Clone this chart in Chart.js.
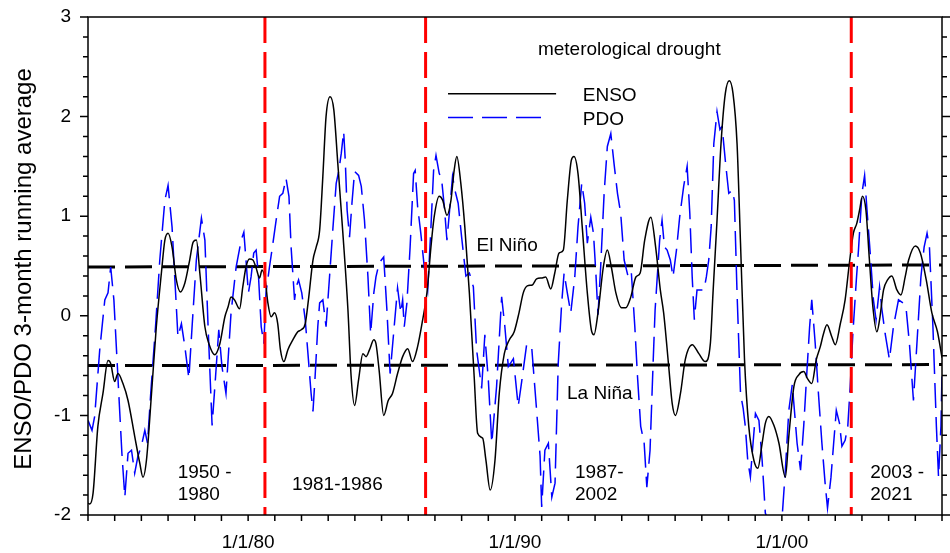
<!DOCTYPE html>
<html>
<head>
<meta charset="utf-8">
<script src="https://cdn.jsdelivr.net/npm/chart.js@4"></script>
<style>
  html, body { margin: 0; padding: 0; background: #fff; }
  #wrap { width: 950px; height: 553px; }
</style>
</head>
<body>
<div id="wrap"><canvas id="ensoChart" width="950" height="553"></canvas></div>
<script>
// ENSO 3-month running average (black solid)
const ensoYears = [
  1974.00, 1974.06, 1974.19, 1974.37, 1974.56, 1974.75, 1974.85, 1975.00, 1975.12, 1975.31,
  1975.50, 1975.75, 1975.94, 1976.06, 1976.19, 1976.38, 1976.56, 1976.75, 1976.88, 1977.00,
  1977.15, 1977.31, 1977.46, 1977.63, 1977.81, 1977.94, 1978.06, 1978.19, 1978.38, 1978.53,
  1978.75, 1978.94, 1979.13, 1979.25, 1979.36, 1979.49, 1979.68, 1979.80, 1979.92, 1980.05,
  1980.18, 1980.30, 1980.43, 1980.52, 1980.64, 1980.74, 1980.86, 1980.99, 1981.11, 1981.21,
  1981.34, 1981.49, 1981.68, 1981.86, 1981.99, 1982.14, 1982.26, 1982.43, 1982.55, 1982.68,
  1982.80, 1982.92, 1983.07, 1983.21, 1983.36, 1983.55, 1983.74, 1983.86, 1983.99, 1984.14,
  1984.30, 1984.42, 1984.55, 1984.71, 1984.79, 1984.91, 1985.08, 1985.25, 1985.41, 1985.60,
  1985.79, 1985.98, 1986.16, 1986.35, 1986.54, 1986.70, 1986.85, 1986.97, 1987.16, 1987.29,
  1987.45, 1987.60, 1987.72, 1987.82, 1987.97, 1988.12, 1988.29, 1988.47, 1988.60, 1988.79,
  1988.91, 1989.07, 1989.25, 1989.41, 1989.60, 1989.79, 1989.97, 1990.15, 1990.31, 1990.46,
  1990.65, 1990.81, 1991.02, 1991.15, 1991.34, 1991.49, 1991.65, 1991.81, 1991.96, 1992.11,
  1992.21, 1992.36, 1992.52, 1992.71, 1992.86, 1992.96, 1993.11, 1993.31, 1993.46, 1993.61,
  1993.78, 1993.99, 1994.15, 1994.34, 1994.53, 1994.69, 1994.86, 1995.09, 1995.27, 1995.45,
  1995.57, 1995.76, 1995.89, 1996.01, 1996.20, 1996.38, 1996.64, 1996.89, 1997.13, 1997.32,
  1997.42, 1997.57, 1997.72, 1997.88, 1998.03, 1998.17, 1998.32, 1998.45, 1998.60, 1998.76,
  1998.95, 1999.10, 1999.26, 1999.38, 1999.51, 1999.70, 1999.89, 2000.13, 2000.26, 2000.45,
  2000.64, 2000.82, 2000.96, 2001.12, 2001.29, 2001.44, 2001.56, 2001.69, 2001.87, 2002.00,
  2002.19, 2002.37, 2002.53, 2002.68, 2002.81, 2002.91, 2003.02, 2003.15, 2003.28, 2003.41,
  2003.56, 2003.66, 2003.81, 2003.96, 2004.12, 2004.31, 2004.46, 2004.62, 2004.75, 2005.00,
  2005.19, 2005.41, 2005.62, 2005.83, 2006.00
];
const ensoValues = [
  -1.88, -1.89, -1.78, -1.11, -0.78, -0.45, -0.48, -0.66, -0.58, -0.68,
  -0.85, -1.21, -1.48, -1.62, -1.45, -0.78, -0.11, 0.43, 0.76, 0.83,
  0.69, 0.36, 0.24, 0.33, 0.56, 0.74, 0.76, 0.43, -0.11, -0.28,
  -0.39, -0.28, -0.01, 0.09, 0.19, 0.16, 0.07, 0.29, 0.49, 0.57,
  0.56, 0.48, 0.38, 0.46, 0.36, 0.13, -0.01, 0.03, -0.08, -0.34,
  -0.46, -0.34, -0.24, -0.16, -0.14, -0.08, 0.16, 0.56, 0.69, 0.86,
  1.40, 2.00, 2.20, 2.07, 1.53, 0.83, 0.06, -0.61, -0.90, -0.64,
  -0.38, -0.41, -0.34, -0.24, -0.28, -0.55, -1.00, -0.85, -0.78, -0.58,
  -0.41, -0.33, -0.46, -0.31, -0.04, 0.23, 0.69, 0.99, 1.20, 1.16,
  1.01, 1.16, 1.46, 1.60, 1.33, 0.89, 0.23, -0.61, -1.18, -1.23,
  -1.45, -1.75, -1.45, -0.78, -0.38, -0.24, -0.16, 0.03, 0.23, 0.30,
  0.31, 0.37, 0.38, 0.39, 0.27, 0.43, 0.63, 0.66, 1.16, 1.56,
  1.60, 1.43, 0.89, 0.23, -0.14, -0.19, 0.03, 0.49, 0.66, 0.49,
  0.23, 0.08, 0.08, 0.19, 0.39, 0.43, 0.76, 0.99, 0.69, 0.25,
  0.03, -0.51, -0.88, -1.00, -0.78, -0.44, -0.29, -0.38, -0.46, -0.28,
  0.23, 0.96, 1.73, 2.23, 2.36, 2.23, 1.73, 0.73, -0.44, -1.11,
  -1.45, -1.53, -1.28, -1.08, -1.01, -1.10, -1.28, -1.62, -1.21, -0.71,
  -0.59, -0.56, -0.63, -0.68, -0.44, -0.31, -0.18, -0.09, -0.21, -0.29,
  -0.08, 0.16, 0.53, 0.83, 0.93, 1.06, 1.20, 1.06, 0.56, 0.09,
  -0.16, -0.04, 0.26, 0.36, 0.40, 0.26, 0.21, 0.39, 0.56, 0.70,
  0.63, 0.36, 0.03, -0.16, -0.42
];

// PDO 3-month running average (blue dashed)
const pdoYears = [
  1974.00, 1974.15, 1974.25, 1974.44, 1974.63, 1974.75, 1974.85, 1974.97, 1975.12, 1975.27,
  1975.38, 1975.50, 1975.63, 1975.75, 1975.87, 1976.00, 1976.13, 1976.23, 1976.35, 1976.53,
  1976.69, 1976.88, 1977.00, 1977.15, 1977.25, 1977.37, 1977.50, 1977.63, 1977.78, 1977.90,
  1978.06, 1978.25, 1978.38, 1978.50, 1978.65, 1978.78, 1978.90, 1979.02, 1979.17, 1979.36,
  1979.55, 1979.74, 1979.84, 1979.92, 1980.01, 1980.11, 1980.21, 1980.30, 1980.39, 1980.49,
  1980.59, 1980.67, 1980.80, 1980.93, 1981.05, 1981.18, 1981.30, 1981.42, 1981.53, 1981.61,
  1981.74, 1981.80, 1981.89, 1982.01, 1982.14, 1982.26, 1982.36, 1982.43, 1982.51, 1982.61,
  1982.68, 1982.80, 1982.92, 1983.05, 1983.18, 1983.30, 1983.40, 1983.49, 1983.58, 1983.64,
  1983.71, 1983.80, 1983.89, 1983.99, 1984.14, 1984.24, 1984.36, 1984.49, 1984.59, 1984.71,
  1984.79, 1984.91, 1985.08, 1985.20, 1985.32, 1985.45, 1985.60, 1985.72, 1985.79, 1985.85,
  1985.95, 1986.07, 1986.20, 1986.26, 1986.35, 1986.47, 1986.60, 1986.73, 1986.85, 1986.95,
  1987.04, 1987.16, 1987.25, 1987.35, 1987.45, 1987.54, 1987.66, 1987.75, 1987.87, 1988.00,
  1988.16, 1988.29, 1988.44, 1988.56, 1988.75, 1988.87, 1989.00, 1989.13, 1989.31, 1989.50,
  1989.62, 1989.75, 1989.94, 1990.12, 1990.25, 1990.44, 1990.63, 1990.81, 1990.94, 1991.00,
  1991.12, 1991.25, 1991.38, 1991.50, 1991.62, 1991.75, 1991.84, 1991.96, 1992.09, 1992.24,
  1992.36, 1992.50, 1992.61, 1992.71, 1992.84, 1992.94, 1993.03, 1993.11, 1993.21, 1993.34,
  1993.46, 1993.59, 1993.71, 1993.84, 1993.96, 1994.09, 1994.25, 1994.36, 1994.49, 1994.59,
  1994.71, 1994.84, 1994.94, 1995.06, 1995.18, 1995.25, 1995.42, 1995.51, 1995.60, 1995.70,
  1995.82, 1995.92, 1996.05, 1996.17, 1996.32, 1996.45, 1996.55, 1996.64, 1996.72, 1996.82,
  1996.95, 1997.08, 1997.17, 1997.26, 1997.35, 1997.45, 1997.57, 1997.68, 1997.76, 1997.88,
  1998.01, 1998.14, 1998.22, 1998.32, 1998.45, 1998.55, 1998.63, 1998.72, 1998.82, 1998.92,
  1999.01, 1999.14, 1999.26, 1999.38, 1999.52, 1999.75, 2000.01, 2000.13, 2000.26, 2000.39,
  2000.47, 2000.57, 2000.70, 2000.82, 2000.92, 2001.04, 2001.12, 2001.25, 2001.37, 2001.50,
  2001.62, 2001.71, 2001.84, 2001.94, 2002.04, 2002.16, 2002.25, 2002.37, 2002.47, 2002.56,
  2002.66, 2002.79, 2002.87, 2003.00, 2003.10, 2003.19, 2003.31, 2003.43, 2003.53, 2003.66,
  2003.75, 2003.87, 2004.03, 2004.18, 2004.37, 2004.54, 2004.66, 2004.78, 2004.93, 2005.06,
  2005.21, 2005.33, 2005.44, 2005.53, 2005.66, 2005.79, 2005.87, 2005.96, 2006.00
];
const pdoValues = [
  -1.05, -1.15, -1.01, -0.34, 0.16, 0.23, 0.49, 0.16, -0.61, -1.38,
  -1.82, -1.38, -1.35, -1.58, -1.41, -1.31, -1.15, -1.28, -0.78, -0.11,
  0.56, 1.16, 1.31, 0.89, 0.39, -0.21, -0.08, -0.31, -0.63, -0.11,
  0.56, 0.98, 0.76, -0.11, -1.10, -0.61, -0.14, -0.51, -0.78, 0.03,
  0.49, 0.76, 0.84, 0.56, 0.23, 0.39, 0.63, 0.66, 0.39, -0.11,
  -0.28, 0.23, 0.49, 0.73, 0.96, 1.20, 1.23, 1.38, 1.20, 0.69,
  0.16, 0.29, 0.36, 0.23, -0.04, -0.44, -0.78, -0.96, -0.61, -0.11,
  0.13, 0.16, -0.11, 0.39, 0.89, 1.33, 1.46, 1.63, 1.85, 1.56,
  1.06, 0.79, 1.13, 1.45, 1.41, 1.30, 0.96, 0.39, -0.18, 0.23,
  0.39, 0.53, 0.59, 0.06, -0.58, -0.18, 0.28, 0.03, 0.16, -0.11,
  0.13, 0.69, 1.43, 1.46, 1.10, 0.83, 0.49, 0.26, 0.89, 1.46,
  1.61, 1.43, 1.37, 1.10, 0.76, 1.03, 1.40, 1.26, 1.13, 0.79,
  0.40, 0.43, 0.29, -0.34, -0.73, -0.19, -0.64, -1.28, -0.71, 0.19,
  -0.11, -0.51, -0.43, -0.91, -0.66, -0.28, -0.33, -0.95, -1.41, -1.92,
  -1.35, -1.28, -1.82, -1.68, -0.48, 0.13, 0.43, 0.23, 0.03, 0.39,
  0.89, 1.33, 1.13, 0.73, 0.99, 0.83, 0.43, 0.01, 0.49, 1.23,
  1.70, 1.83, 1.53, 1.23, 1.03, 0.56, 0.38, 0.43, -0.11, -0.61,
  -1.11, -1.28, -1.72, -1.35, -0.44, 0.06, 0.76, 0.96, 0.69, 0.66,
  0.56, 0.39, 0.66, 0.99, 1.30, 1.50, 1.03, 0.39, -0.04, 0.26,
  0.26, 0.26, 0.39, 0.56, 0.89, 1.73, 2.05, 1.87, 1.90, 1.56,
  1.23, 1.26, 1.16, 0.23, -0.78, -0.93, -1.11, -1.45, -1.62, -1.28,
  -0.98, -1.05, -1.45, -1.98, -2.08, -2.05, -2.02, -1.55, -0.95, -0.69,
  -0.95, -1.28, -1.55, -1.10, -0.64, -0.11, 0.16, -0.28, -0.78, -1.28,
  -1.68, -1.93, -1.62, -1.28, -0.95, -1.08, -1.31, -1.25, -1.11, -0.71,
  -0.18, 0.36, 0.66, 1.23, 1.41, 1.06, 0.63, 0.16, -0.04, 0.29,
  0.06, -0.18, -0.44, -0.11, 0.16, 0.13, 0.06, -0.28, -0.85, -0.28,
  0.39, 0.69, 0.83, 0.69, -0.11, -1.11, -1.62, -1.11, -0.58
];

// El Niño / La Niña thresholds (drawn across the whole period)
const thresholdYears = [1974, 2006];
const elNinoLevel = [0.49, 0.51];
const laNinaLevel = [-0.50, -0.49];

// red dashed period boundaries
const periodBreaks = [1980.63, 1986.65, 2002.60];

// axis labels
const xTickYears = [1980, 1990, 2000];
const xTickLabels = ['1/1/80', '1/1/90', '1/1/00'];
const yRange = [-2, 3];

// text placed inside the plot (year, value, lines)
const notes = [
  { x: 1990.86, y: 2.62, lines: ['meterological drought'] },
  { x: 1988.56, y: 0.65, lines: ['El Niño'] },
  { x: 1991.95, y: -0.84, lines: ['La Niña'] },
  { x: 1977.36, y: -1.63, lines: ['1950 -', '1980'] },
  { x: 1981.64, y: -1.75, lines: ['1981-1986'] },
  { x: 1992.25, y: -1.63, lines: ['1987-', '2002'] },
  { x: 2003.31, y: -1.63, lines: ['2003 -', '2021'] }
];
const legendItems = [
  { label: 'ENSO', color: '#000000', dash: [], x0: 1987.49, x1: 1991.54, y: 2.23, tx: 1992.54, ty: 2.16 },
  { label: 'PDO', color: '#0000ff', dash: [25, 9], x0: 1987.49, x1: 1991.19, y: 1.99, tx: 1992.54, ty: 1.92 }
];

const FONT = '"Liberation Sans", Arial, Helvetica, sans-serif';
Chart.defaults.font.family = FONT;
Chart.defaults.font.size = 19;
Chart.defaults.color = '#000';

const toPoints = (xs, ys) => xs.map((x, i) => ({ x: x, y: ys[i] }));

const datasets = [];
periodBreaks.forEach(yr => {
  datasets.push({
    // drawn top to bottom so the dash pattern starts at the top border
    data: [{ x: yr, y: yRange[1] }, { x: yr, y: yRange[0] }],
    borderColor: '#ff0000', borderWidth: 3, borderDash: [26, 9],
    pointRadius: 0, order: 0
  });
});
datasets.push({
  label: 'ENSO',
  data: toPoints(ensoYears, ensoValues),
  borderColor: '#000', borderWidth: 1.5,
  cubicInterpolationMode: 'monotone',
  pointRadius: 0, order: 1
});
datasets.push({
  label: 'PDO',
  data: toPoints(pdoYears, pdoValues),
  borderColor: '#0000ff', borderWidth: 1.5, borderDash: [25, 9],
  tension: 0, pointRadius: 0, order: 2
});
[elNinoLevel, laNinaLevel].forEach(lv => {
  datasets.push({
    data: toPoints(thresholdYears, lv),
    borderColor: '#000', borderWidth: 3, borderDash: [27, 10],
    pointRadius: 0, order: 3
  });
});

const framePlugin = {
  id: 'frame',
  afterDraw(chart) {
    const { ctx, chartArea: a, scales } = chart;
    const xs = scales.x, ys = scales.y;
    ctx.save();
    ctx.strokeStyle = '#000';
    ctx.lineWidth = 1.5;
    ctx.setLineDash([]);
    ctx.strokeRect(a.left, a.top, a.right - a.left, a.bottom - a.top);

    ctx.beginPath();
    xs.ticks.forEach(t => {
      const px = xs.getPixelForValue(t.value);
      ctx.moveTo(px, a.bottom);
      ctx.lineTo(px, a.bottom + 6);
    });
    ys.ticks.forEach(t => {
      const py = ys.getPixelForValue(t.value);
      const major = Math.abs(t.value - Math.round(t.value)) < 1e-6;
      const len = major ? 8 : 5;
      ctx.moveTo(a.left - len, py);
      ctx.lineTo(a.left, py);
      ctx.moveTo(a.right, py);
      ctx.lineTo(a.right + len, py);
    });
    ctx.stroke();

    // y axis title
    ctx.fillStyle = '#000';
    ctx.font = '24px ' + FONT;
    ctx.textAlign = 'center';
    ctx.textBaseline = 'middle';
    ctx.save();
    ctx.translate(24, (a.top + a.bottom) / 2 + 3);
    ctx.rotate(-Math.PI / 2);
    ctx.fillText('ENSO/PDO 3-month running average', 0, 0);
    ctx.restore();

    // notes
    ctx.font = '19px ' + FONT;
    ctx.textAlign = 'left';
    ctx.textBaseline = 'alphabetic';
    notes.forEach(n => {
      const px = xs.getPixelForValue(n.x);
      const py = ys.getPixelForValue(n.y);
      n.lines.forEach((s, i) => ctx.fillText(s, px, py + i * 22));
    });

    // legend
    legendItems.forEach(it => {
      ctx.beginPath();
      ctx.strokeStyle = it.color;
      ctx.lineWidth = 1.5;
      ctx.setLineDash(it.dash);
      const py = ys.getPixelForValue(it.y);
      ctx.moveTo(xs.getPixelForValue(it.x0), py);
      ctx.lineTo(xs.getPixelForValue(it.x1), py);
      ctx.stroke();
      ctx.setLineDash([]);
      ctx.fillText(it.label, xs.getPixelForValue(it.tx), ys.getPixelForValue(it.ty));
    });
    ctx.restore();
  }
};

const noPad = s => { s.paddingTop = 0; s.paddingBottom = 0; s.paddingLeft = 0; s.paddingRight = 0; };

new Chart(document.getElementById('ensoChart'), {
  type: 'line',
  data: { datasets: datasets },
  options: {
    responsive: false,
    devicePixelRatio: 1,
    animation: false,
    layout: { padding: { top: 17, right: 8, left: 0, bottom: 0 } },
    plugins: { legend: { display: false }, tooltip: { enabled: false } },
    scales: {
      x: {
        type: 'linear',
        min: 1974, max: 2006,
        grid: { display: false, drawTicks: false },
        border: { display: false },
        ticks: {
          stepSize: 1, autoSkip: false, maxRotation: 0, padding: 16,
          callback: v => {
            const i = xTickYears.indexOf(Math.round(v));
            return i >= 0 && Math.abs(v - Math.round(v)) < 1e-6 ? xTickLabels[i] : '';
          }
        },
        afterFit: s => { s.height = 38; noPad(s); }
      },
      y: {
        min: yRange[0], max: yRange[1],
        grid: { display: false, drawTicks: false },
        border: { display: false },
        ticks: {
          stepSize: 0.2, autoSkip: false, padding: 17,
          callback: v => Math.abs(v - Math.round(v)) < 1e-6 ? String(Math.round(v)) : ''
        },
        afterFit: s => { s.width = 88; noPad(s); }
      }
    }
  },
  plugins: [framePlugin]
});
</script>
</body>
</html>
